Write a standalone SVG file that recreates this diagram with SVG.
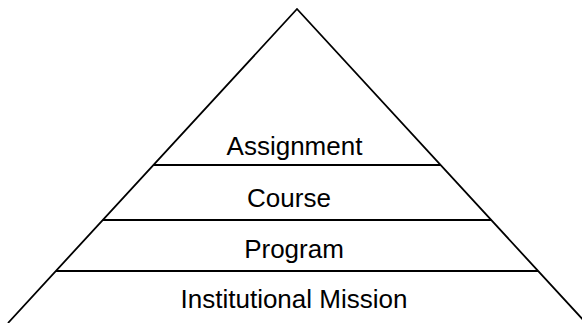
<svg xmlns="http://www.w3.org/2000/svg" width="582" height="323" viewBox="0 0 582 323">
  <style>
    .edge { fill: none; stroke: #000; stroke-width: 1.8; stroke-linejoin: miter; }
    .tier { stroke: #000; stroke-width: 1.8; }
    .label { font-family: "Liberation Sans", Arial, sans-serif; font-size: 26px; fill: #000; text-anchor: middle; }
  </style>
  <rect width="582" height="323" fill="#fff"/>
  <!-- pyramid outline and tier dividers -->
  <g id="connectors">
    <path class="edge" d="M 8 323 L 297 9 L 586 323"/>
    <line class="tier" x1="153.5" y1="165" x2="440.5" y2="165"/>
    <line class="tier" x1="102.9" y1="220" x2="491.1" y2="220"/>
    <line class="tier" x1="56" y1="271" x2="538" y2="271"/>
  </g>
  <g id="assignment">
    <text class="label" x="294.5" y="155">Assignment</text>
  </g>
  <g id="course">
    <text class="label" x="289" y="206.5">Course</text>
  </g>
  <g id="program">
    <text class="label" x="294" y="257.5">Program</text>
  </g>
  <g id="institutional-mission">
    <text class="label" x="294" y="307.5">Institutional Mission</text>
  </g>
</svg>
